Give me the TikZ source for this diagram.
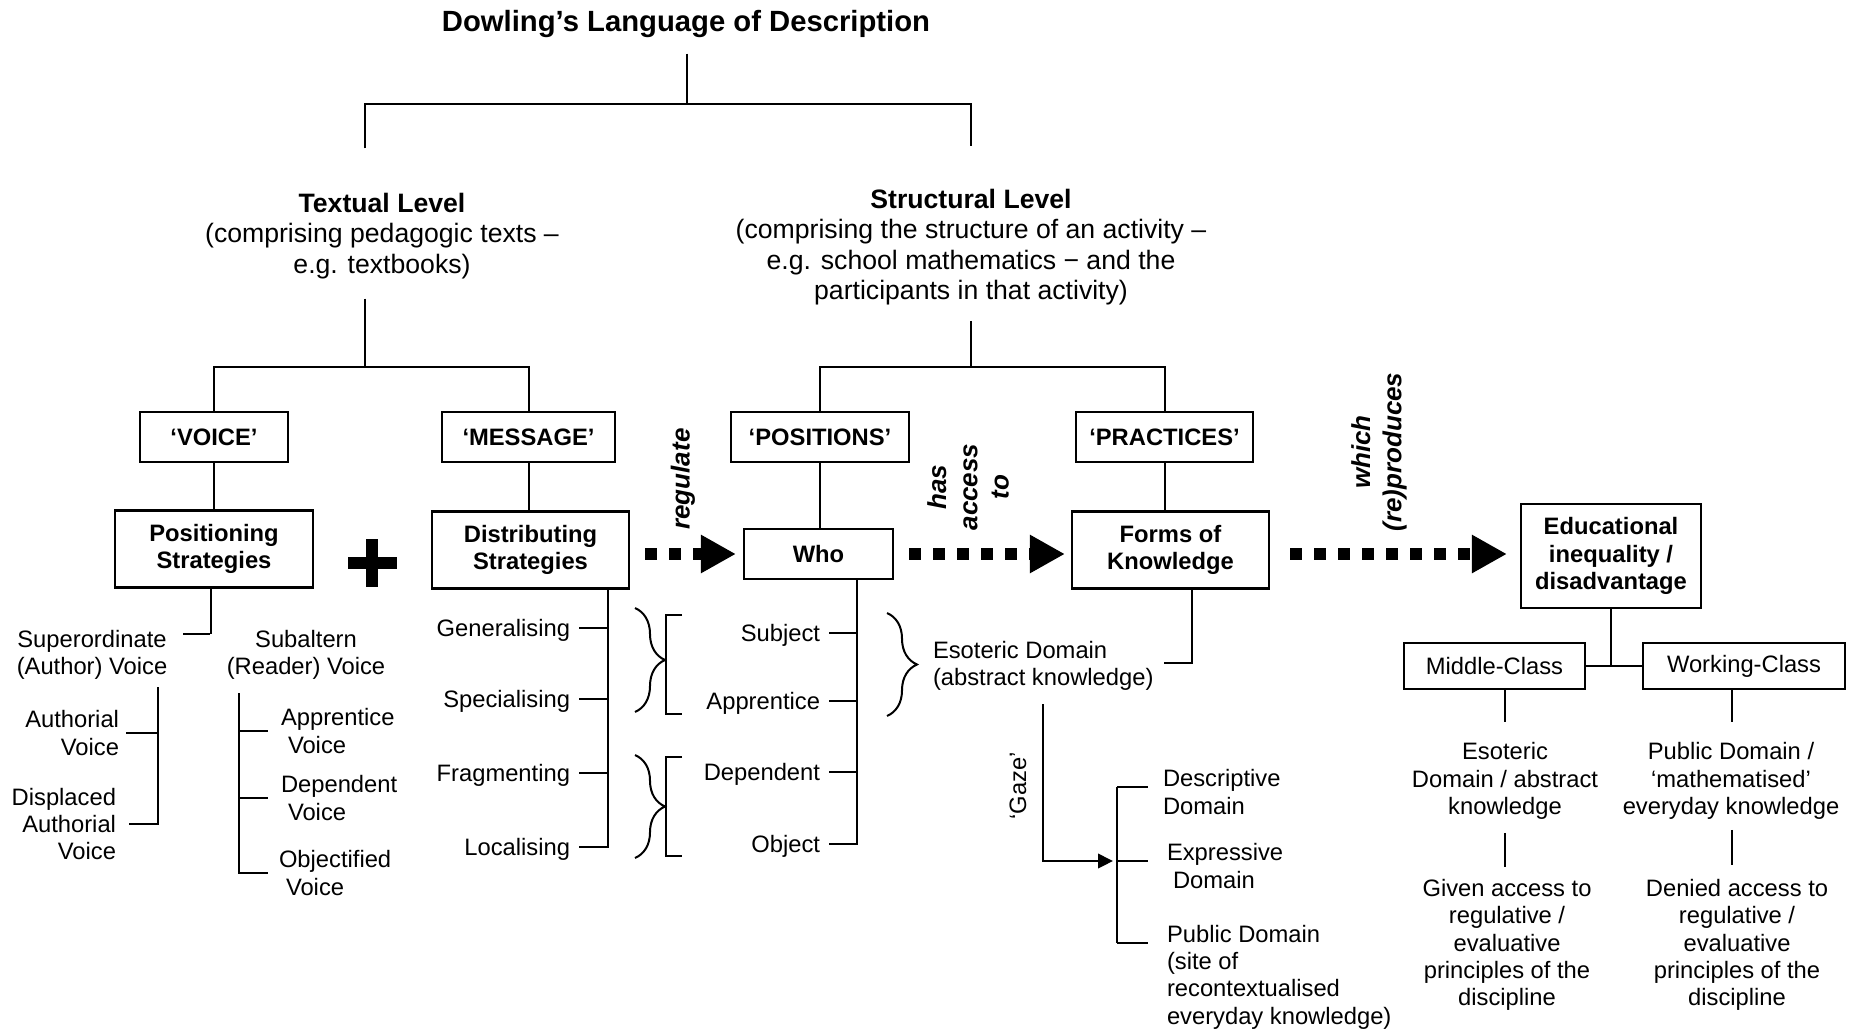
\documentclass[tikz,border=0pt]{standalone}
\usepackage{fontspec}
\setmainfont{Liberation Sans}
\usetikzlibrary{arrows.meta,decorations.pathreplacing,calc}
\begin{document}
\begin{tikzpicture}[x=0.4pt,y=-0.4pt,line width=0.8pt,
  txt/.style={inner sep=0pt,font=\fontsize{9.5pt}{10.9pt}\selectfont},
  one/.style={txt,text height=6.8pt,text depth=0pt},
  multi/.style={txt,align=#1},
  heading/.style={inner sep=0pt,font=\bfseries\fontsize{11.7pt}{14pt}\selectfont},
  lvl/.style={inner sep=0pt,align=center,font=\fontsize{10.65pt}{12.1pt}\selectfont},
  box/.style={draw,line width=0.9pt,align=center,inner sep=2pt,font=\bfseries\fontsize{9.5pt}{11pt}\selectfont},
  plainbox/.style={box,font=\fontsize{9.5pt}{11pt}\selectfont},
  linkword/.style={inner sep=0pt,rotate=90,align=center,font=\bfseries\itshape\fontsize{10.4pt}{12.5pt}\selectfont},
  flow/.style={line width=4.8pt,dash pattern=on 4.8pt off 4.8pt,-{Triangle[length=14pt,width=14.4pt]}},
  gazearrow/.style={-{Triangle[length=6pt,width=5.8pt]}},
  curly/.style={decorate,decoration={brace,amplitude=12pt}}
]
\useasboundingbox (0,0) rectangle (1858,1032);

% ---------- title and the two levels ----------
\node[heading] (title) at (686,24) {Dowling’s Language of Description};
\node[lvl] (textual) at (382,236) {\textbf{Textual Level}\\(comprising pedagogic texts –\\e.g. textbooks)};
\node[lvl] (structural) at (971,247) {\textbf{Structural Level}\\(comprising the structure of an activity –\\e.g. school mathematics − and the\\participants in that activity)};

% ---------- boxes ----------
\node[box,minimum width=59.2pt,minimum height=20pt] (voice) at (214,437) {‘VOICE’};
\node[box,minimum width=69.2pt,minimum height=20pt] (message) at (528.5,437) {‘MESSAGE’};
\node[box,minimum width=71.2pt,minimum height=20pt] (positions) at (820,437) {‘POSITIONS’};
\node[box,minimum width=70.8pt,minimum height=20pt] (practices) at (1164.5,437) {‘PRACTICES’};
\node[box,minimum width=79.2pt,minimum height=30.8pt] (pos) at (214,549) {Positioning\\Strategies};
\node[box,minimum width=78.8pt,minimum height=30.8pt] (dist) at (530.5,550) {Distributing\\Strategies};
\node[box,minimum width=59.6pt,minimum height=20pt] (who) at (818.5,554) {Who};
\node[box,minimum width=78.8pt,minimum height=30.8pt] (forms) at (1170.5,550) {Forms of\\Knowledge};
\node[box,minimum width=72pt,minimum height=41.6pt] (educ) at (1611,556) {Educational\\inequality /\\disadvantage};
\node[plainbox,minimum width=72.4pt,minimum height=18.4pt] (mc) at (1494.5,666) {Middle-Class};
\node[plainbox,minimum width=80.8pt,minimum height=18.4pt] (wc) at (1744,666) {Working-Class};

% ---------- linking words ----------
\node[linkword] (reg) at (683,479) {regulate};
\node[linkword] (has) at (968,487) {has\\access\\to};
\node[linkword] (which) at (1379,452) {which\\(re)produces};

% ---------- voice branch ----------
\node[multi=center] (sup) at (92,655) {Superordinate\\(Author) Voice};
\node[multi=center] (sub) at (306,655) {Subaltern\\(Reader) Voice};
\node[multi=right,anchor=east] (auth) at (120,733) {Authorial\\Voice};
\node[multi=right,anchor=east] (dis) at (117,824) {Displaced\\Authorial\\Voice};
\node[multi=left,anchor=west] (app) at (280,731) {Apprentice\\\hspace*{2.8pt}Voice};
\node[multi=left,anchor=west] (dep) at (280,798) {Dependent\\\hspace*{2.8pt}Voice};
\node[multi=left,anchor=west] (obj) at (278,873) {Objectified\\\hspace*{2.8pt}Voice};

% ---------- message branch ----------
\node[one,anchor=east] (gen) at (571,628) {Generalising};
\node[one,anchor=east] (spec) at (571,699) {Specialising};
\node[one,anchor=east] (frag) at (571,773) {Fragmenting};
\node[one,anchor=east] (loc) at (571,847) {Localising};

% ---------- positions branch ----------
\node[one,anchor=east] (subj) at (821,633) {Subject};
\node[one,anchor=east] (appr) at (821,701) {Apprentice};
\node[one,anchor=east] (depd) at (821,772) {Dependent};
\node[one,anchor=east] (objc) at (821,844) {Object};

% ---------- practices branch ----------
\node[multi=left,anchor=west] (eso) at (932,666) {Esoteric Domain\\(abstract knowledge)};
\node[txt,rotate=90] (gaze) at (1018,786) {‘Gaze’};
\node[multi=left,anchor=west] (desc) at (1162,792) {Descriptive\\Domain};
\node[multi=left,anchor=west] (expr) at (1166,866) {Expressive\\\hspace*{2.4pt}Domain};
\node[multi=left,anchor=west] (pub) at (1166,977) {Public Domain\\(site of\\recontextualised\\everyday knowledge)};

% ---------- outcome branch ----------
\node[multi=center] (mcd) at (1505,781) {Esoteric\\Domain / abstract\\knowledge};
\node[multi=center] (wcd) at (1731,781) {Public Domain /\\‘mathematised’\\everyday knowledge};
\node[multi=center] (mca) at (1507,945) {Given access to\\regulative /\\evaluative\\principles of the\\discipline};
\node[multi=center] (wca) at (1737,945) {Denied access to\\regulative /\\evaluative\\principles of the\\discipline};

% ---------- junctions ----------
\coordinate (hJ) at (687,104);
\coordinate (tJ) at (365,367);
\coordinate (sJ) at (971,367);
\coordinate (pJ) at (211,634);
\coordinate (sL) at (158,0);
\coordinate (sR) at (239,0);
\coordinate (dT) at (608,0);
\coordinate (wT) at (857,0);
\coordinate (fT) at (1192,0);
\coordinate (mT) at (1505,0);
\coordinate (kT) at (1732,0);
\coordinate (bTop) at (1117,787);
\coordinate (bMid) at (1117,861);
\coordinate (bBot) at (1117,943);

% ---------- upper tree ----------
\draw[shorten <=6pt] (title.south -| hJ) -- (hJ);
\draw[shorten <=17.6pt,shorten >=16.8pt] (tJ |- textual.north) -- (tJ |- hJ) -- (sJ |- hJ) -- (sJ |- structural.north);
\draw[shorten <=7.6pt] (tJ |- textual.south) -- (tJ);
\draw (voice.north) |- (tJ) -| (message.north);
\draw[shorten <=6pt] (sJ |- structural.south) -- (sJ);
\draw (positions.north) |- (sJ) -| (practices.north);
\draw (voice.south) -- (pos.north);
\draw (message.south) -- (message.south |- dist.north);
\draw (positions.south) -- (positions.south |- who.north);
\draw (practices.south) -- (practices.south |- forms.north);

% ---------- voice tree ----------
\draw (pos.south -| pJ) -- (pJ);
\draw[shorten <=6pt,shorten >=6.4pt] (sup.east |- pJ) -- (sub.west |- pJ);
\draw[shorten <=2.6pt,shorten >=4.8pt] (sL |- sup.south) -- (sL |- dis.east) -- (dis.east);
\draw[shorten <=2.4pt] (auth.east) -- (auth.east -| sL);
\draw[shorten <=5pt,shorten >=4pt] (sR |- sub.south) -- (sR |- obj.west) -- (obj.west);
\draw[shorten >=4.8pt] (app.west -| sR) -- (app.west);
\draw[shorten >=4.8pt] (dep.west -| sR) -- (dep.west);

% ---------- message tree ----------
\draw[shorten >=3.2pt] (dist.south -| dT) -- (dT |- loc.east) -- (loc.east);
\foreach \n in {gen,spec,frag} \draw[shorten <=3.2pt] (\n.east) -- (\n.east -| dT);

% ---------- positions tree ----------
\draw[shorten >=3.2pt] (who.south -| wT) -- (wT |- objc.east) -- (objc.east);
\foreach \n in {subj,appr,depd} \draw[shorten <=3.2pt] (\n.east) -- (\n.east -| wT);

% ---------- practices tree ----------
\draw[shorten >=4pt] (forms.south -| fT) -- ([yshift=1.4pt]fT |- eso.east) -- ([yshift=1.4pt]eso.east);
\draw[gazearrow,shorten <=5pt,shorten >=1.6pt] (eso.south) |- (bMid);
\draw (bTop) -- (bBot);
\draw[shorten >=5.6pt] (bTop) -- (bTop -| desc.west);
\draw[shorten >=7.2pt] (bMid) -- (bMid -| expr.west);
\draw[shorten >=7.2pt] (bBot) -- (bBot -| pub.west);

% ---------- outcome tree ----------
\draw (educ.south) -- (educ.south |- mc.east);
\draw (mc.east) -- (wc.west);
\draw[shorten >=8pt] (mc.south -| mT) -- (mT |- mcd.north);
\draw[shorten <=5pt,shorten >=4.4pt] (mT |- mcd.south) -- (mT |- mca.north);
\draw[shorten >=8pt] (wc.south -| kT) -- (kT |- wcd.north);
\draw[shorten <=3.8pt,shorten >=5.2pt] (kT |- wcd.south) -- (kT |- wca.north);

% ---------- relation arrows ----------
\draw[flow,shorten <=6pt,shorten >=2.8pt] (dist.east |- who.west) -- (who.west);
\draw[flow,shorten <=6pt,shorten >=2.4pt] (who.east) -- (who.east -| forms.west);
\draw[flow,shorten <=8pt,shorten >=5.2pt] (forms.east |- who.east) -- (who.east -| educ.west);

% ---------- plus sign ----------
\draw[line width=4.8pt] (348,563) -- (397,563) (372,539) -- (372,587);

% ---------- braces and brackets ----------
\draw[curly] (635,608) -- (635,712);
\draw[curly] (635,755) -- (635,858);
\draw[curly] (887,613) -- (887,716);
\draw (682,615) -- (666,615) -- (666,714) -- (682,714);
\draw (682,757) -- (666,757) -- (666,856) -- (682,856);
\end{tikzpicture}
\end{document}
